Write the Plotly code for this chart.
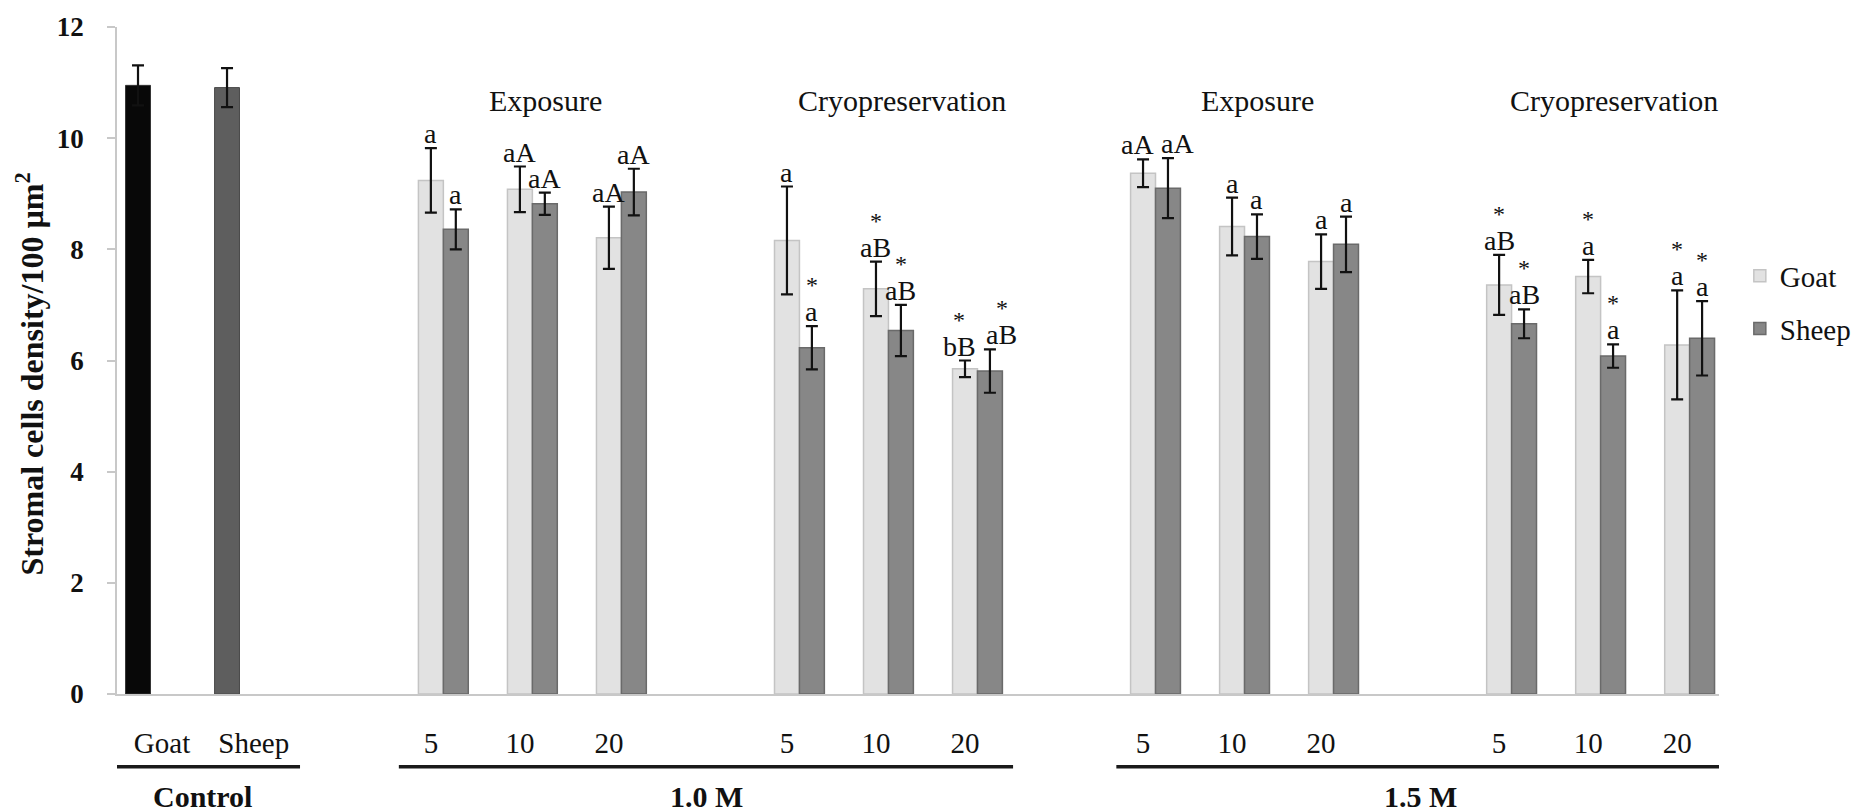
import plotly.graph_objects as go

# ---------------- data ----------------
control_labels = ["Goat", "Sheep"]
control_values = [10.95, 10.91]
control_errors = [0.36, 0.35]

times = ["5", "10", "20"]
panels = ["1.0 M Exposure", "1.0 M Cryopreservation", "1.5 M Exposure", "1.5 M Cryopreservation"]
phase_names = ["Exposure", "Cryopreservation", "Exposure", "Cryopreservation"]
conc_labels = ["Control", "1.0 M", "1.5 M"]

goat_values = [
    [9.24, 9.08, 8.21],
    [8.16, 7.29, 5.85],
    [9.37, 8.41, 7.78],
    [7.36, 7.51, 6.28],
]
goat_errors = [
    [0.58, 0.41, 0.56],
    [0.97, 0.49, 0.15],
    [0.25, 0.52, 0.49],
    [0.54, 0.30, 0.98],
]
sheep_values = [
    [8.36, 8.82, 9.03],
    [6.23, 6.54, 5.81],
    [9.10, 8.23, 8.09],
    [6.66, 6.08, 6.40],
]
sheep_errors = [
    [0.36, 0.20, 0.42],
    [0.39, 0.46, 0.39],
    [0.54, 0.40, 0.50],
    [0.26, 0.21, 0.67],
]
goat_letters = [
    ["a", "aA", "aA"],
    ["a", "aB", "bB"],
    ["aA", "a", "a"],
    ["aB", "a", "a"],
]
sheep_letters = [
    ["a", "aA", "aA"],
    ["a", "aB", "aB"],
    ["aA", "a", "a"],
    ["aB", "a", "a"],
]
goat_stars = [
    [False, False, False],
    [False, True, True],
    [False, False, False],
    [True, True, True],
]
sheep_stars = [
    [False, False, False],
    [True, True, True],
    [False, False, False],
    [True, True, True],
]

# ---------------- layout helpers ----------------
FONT = "Liberation Serif"
control_pos = [0.0, 1.0]
first_pair = 3.43
panel_step = 4.0
half = 0.14
bar_w = 0.28
# horizontal nudges (px) of crowded letter labels: (panel, time) -> (goat, sheep)
label_nudge = {(1, 2): (-6, 12), (2, 0): (-6, 10)}

pair_centers = [[first_pair + p * panel_step + t for t in range(3)] for p in range(4)]
goat_x = [c - half for row in pair_centers for c in row]
sheep_x = [c + half for row in pair_centers for c in row]
goat_y = [v for row in goat_values for v in row]
sheep_y = [v for row in sheep_values for v in row]
goat_e = [v for row in goat_errors for v in row]
sheep_e = [v for row in sheep_errors for v in row]

err_style = dict(type="data", color="#111111", thickness=2.2, width=6)

fig = go.Figure()
fig.add_trace(go.Bar(
    x=[control_pos[0]], y=[control_values[0]], width=bar_w,
    error_y=dict(array=[control_errors[0]], **err_style),
    marker=dict(color="#080808", line=dict(color="#333333", width=1)),
    showlegend=False))
fig.add_trace(go.Bar(
    x=[control_pos[1]], y=[control_values[1]], width=bar_w,
    error_y=dict(array=[control_errors[1]], **err_style),
    marker=dict(color="#5e5e5e", line=dict(color="#4a4a4a", width=1)),
    showlegend=False))
fig.add_trace(go.Bar(
    name="Goat", x=goat_x, y=goat_y, width=bar_w,
    error_y=dict(array=goat_e, **err_style),
    marker=dict(color="#e2e2e2", line=dict(color="#c4c4c4", width=1.5)),
    legendgroup="g"))
fig.add_trace(go.Bar(
    name="Sheep", x=sheep_x, y=sheep_y, width=bar_w,
    error_y=dict(array=sheep_e, **err_style),
    marker=dict(color="#878787", line=dict(color="#6a6a6a", width=1.5)),
    legendgroup="s"))

annotations = []
# significance letters and stars
for p in range(4):
    for t in range(3):
        nudges = label_nudge.get((p, t), (0, 0))
        for k, (xs, vals, errs, letters, stars) in enumerate((
            (pair_centers[p][t] - half, goat_values, goat_errors, goat_letters, goat_stars),
            (pair_centers[p][t] + half, sheep_values, sheep_errors, sheep_letters, sheep_stars),
        )):
            top = vals[p][t] + errs[p][t]
            annotations.append(dict(
                x=xs, y=top, xref="x", yref="y", text=letters[p][t], showarrow=False,
                xanchor="center", yanchor="bottom", yshift=-3, xshift=nudges[k],
                font=dict(family=FONT, size=28, color="#111111")))
            if stars[p][t]:
                annotations.append(dict(
                    x=xs, y=top, xref="x", yref="y", text="*", showarrow=False,
                    xanchor="center", yanchor="bottom", yshift=26, xshift=nudges[k],
                    font=dict(family=FONT, size=24, color="#111111")))

# phase headings
for p in range(4):
    annotations.append(dict(
        x=pair_centers[p][1] + 0.15, y=10.68, xref="x", yref="y", text=phase_names[p],
        showarrow=False, xanchor="center", yanchor="middle",
        font=dict(family=FONT, size=30, color="#111111")))

# group labels and underlines
group_spans = [
    (control_pos[0] - 0.34, control_pos[1] + 0.82),
    (pair_centers[0][0] - 0.50, pair_centers[1][2] + 0.40),
    (pair_centers[2][0] - 0.44, pair_centers[3][2] + 0.37),
]
group_label_x = [0.73, (pair_centers[0][2] + pair_centers[1][0]) / 2 - 0.04,
                 (pair_centers[2][2] + pair_centers[3][0]) / 2 - 0.02]
shapes = []
for (x0, x1), lx, lab in zip(group_spans, group_label_x, conc_labels):
    shapes.append(dict(type="line", xref="x", yref="paper", x0=x0, x1=x1,
                       y0=-0.109, y1=-0.109, line=dict(color="#1a1a1a", width=3.5)))
    annotations.append(dict(
        x=lx, y=-0.153, xref="x", yref="paper", text="<b>" + lab + "</b>", showarrow=False,
        xanchor="center", yanchor="middle",
        font=dict(family=FONT, size=30, color="#111111")))

# y-axis title
annotations.append(dict(
    x=-0.0545, y=0.48, xref="paper", yref="paper", textangle=-90,
    text="<b>Stromal cells density/100 µm<sup>2</sup></b>", showarrow=False,
    xanchor="center", yanchor="middle",
    font=dict(family=FONT, size=32, color="#111111")))

# x tick labels: under each bar group
tick_vals = [control_pos[0] + 0.27, control_pos[1] + 0.30]
tick_text = list(control_labels)
for p in range(4):
    for t in range(3):
        tick_vals.append(pair_centers[p][t] - half)
        tick_text.append(times[t])

fig.update_layout(
    width=1869, height=812,
    margin=dict(l=117, r=150, t=23, b=118),
    paper_bgcolor="white", plot_bgcolor="white",
    barmode="overlay",
    font=dict(family=FONT, color="#111111"),
    xaxis=dict(range=[-0.236, 17.76], showgrid=False, zeroline=False,
               showline=True, linecolor="#c8c8c8", linewidth=1.5,
               tickvals=tick_vals, ticktext=tick_text, ticks="",
               ticklabelstandoff=22,
               tickfont=dict(family=FONT, size=29, color="#111111")),
    yaxis=dict(range=[0, 12], tickvals=[0, 2, 4, 6, 8, 10, 12],
               ticktext=["<b>%d</b>" % v for v in [0, 2, 4, 6, 8, 10, 12]],
               showgrid=False, zeroline=False, showline=True,
               linecolor="#c8c8c8", linewidth=1.5,
               ticks="outside", ticklen=8, tickcolor="#c8c8c8", tickwidth=1.5,
               ticklabelstandoff=18,
               tickfont=dict(family=FONT, size=27, color="#111111")),
    legend=dict(x=1.013, y=0.665, xanchor="left", yanchor="top",
                font=dict(family=FONT, size=29, color="#111111"),
                bgcolor="rgba(0,0,0,0)", tracegroupgap=12, traceorder="grouped",
                itemwidth=30),
    annotations=annotations,
    shapes=shapes,
)

fig.write_html("out.html", config={"displayModeBar": False},
               post_script="document.body.style.margin='0';document.body.style.overflow='hidden';")
